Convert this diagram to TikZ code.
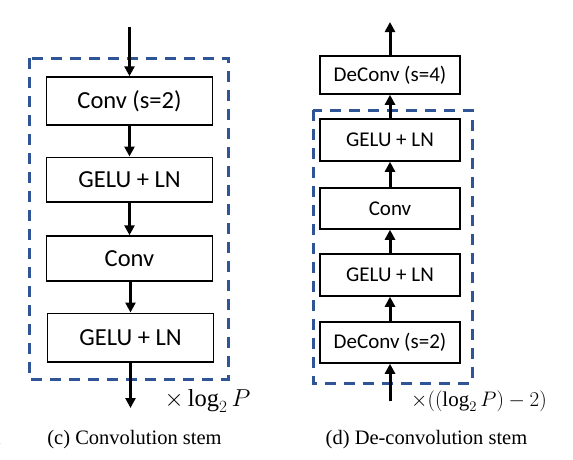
\RequirePackage{fix-cm}
\documentclass[tikz,border=0pt]{standalone}
\usepackage{fontspec}
\setmainfont{Liberation Serif}
\newfontfamily\boxfont{Carlito}
\usetikzlibrary{arrows.meta}
\definecolor{dashblue}{RGB}{47,85,151}
\tikzset{
  blk/.style={draw=black, line width=1.5pt, fill=white, inner sep=0pt},
  bigblk/.style={blk, font=\boxfont\fontsize{24.5}{28}\selectfont, minimum width=166pt},
  smallblk/.style={blk, font=\boxfont\fontsize{21}{24}\selectfont, minimum width=140pt},
  flow/.style={line width=3pt, -{Triangle[length=10pt,width=10pt]}},
  group/.style={draw=dashblue, line width=3pt, dash pattern=on 11pt off 8pt},
  caption/.style={font=\fontsize{20.5}{24}\selectfont, anchor=base},
  mathlbl/.style={font=\fontsize{21}{24}\selectfont, anchor=base}
}
\begin{document}
\begin{tikzpicture}[x=1pt,y=-1pt]
\useasboundingbox (0,0) rectangle (573,459);
% ---------- left: convolution stem ----------
\draw[group] (29,58) rectangle (228,379);
\node[bigblk, minimum height=48pt] (c1) at (129.5,101) {Conv (s=2)};
\node[bigblk, minimum height=44.5pt] (c2) at (129.5,179.5) {GELU + LN};
\node[bigblk, minimum height=45pt] (c3) at (129.5,258.5) {Conv};
\node[bigblk, minimum height=48.5pt] (c4) at (130.5,337.5) {GELU + LN};
\coordinate (cin) at (129.5,27);
\coordinate (cout) at (130.5,408);
\draw[flow] (cin) -- (c1.north);
\draw[flow] (c1.south) -- (c2.north);
\draw[flow] (c2.south) -- (c3.north);
\draw[flow] (c3.south -| c4) -- (c4.north);
\draw[flow] (c4.south) -- (cout);
\node[mathlbl, font=\fontsize{24.5}{28}\selectfont] (cmul) at (207.5,406) {$\times\log_2 P$};
\node[caption] (ccap) at (134.5,444) {(c) Convolution stem};
\node[caption, anchor=base east] (bcap) at (4,444) {k};
% ---------- right: de-convolution stem ----------
\draw[group] (313,110) rectangle (472,383);
\node[smallblk, minimum height=38pt] (d5) at (390,75) {DeConv (s=4)};
\node[smallblk, minimum height=42pt] (d4) at (390,140) {GELU + LN};
\node[smallblk, minimum height=41pt] (d3) at (390,208.5) {Conv};
\node[smallblk, minimum height=42pt] (d2) at (390,275) {GELU + LN};
\node[smallblk, minimum height=41pt] (d1) at (390,342.5) {DeConv (s=2)};
\coordinate (din) at (390,401);
\coordinate (dout) at (390,22);
\draw[flow] (din) -- (d1.south);
\draw[flow] (d1.north) -- (d2.south);
\draw[flow] (d2.north) -- (d3.south);
\draw[flow] (d3.north) -- (d4.south);
\draw[flow] (d4.north) -- (d5.south);
\draw[flow] (d5.north) -- (dout);
\node[mathlbl] (dmul) at (479,406) {$\times((\log_2 P)-2)$};
\node[caption] (dcap) at (426.5,444) {(d) De-convolution stem};
\end{tikzpicture}
\end{document}
